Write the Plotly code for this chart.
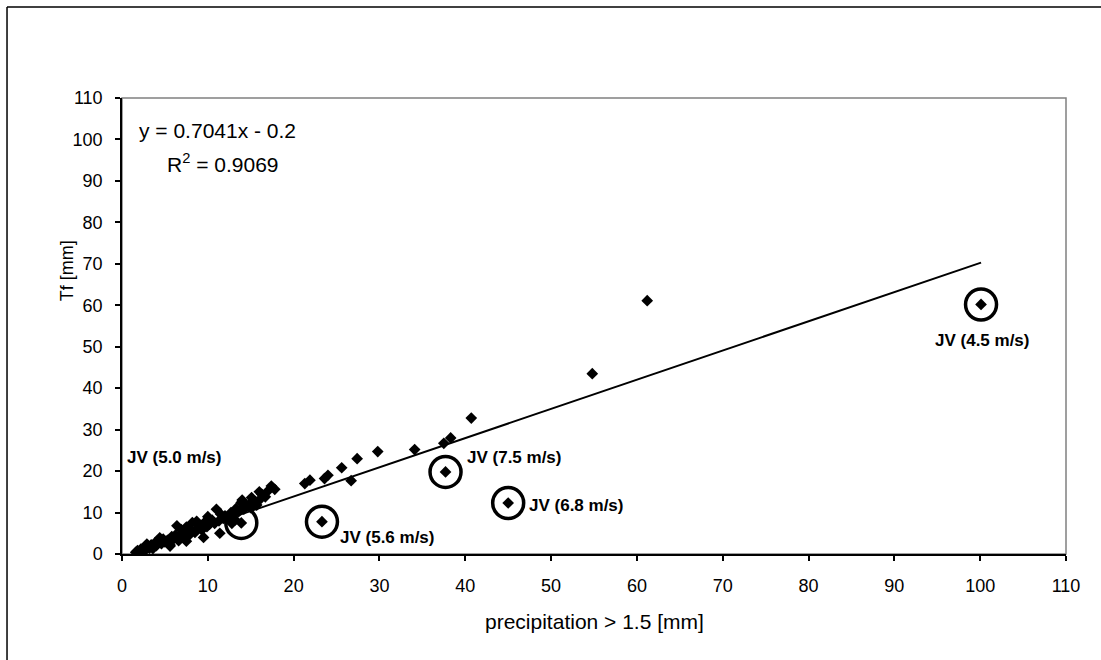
import plotly.graph_objects as go

# Regular observations: precipitation > 1.5 [mm] vs Tf [mm]
precip = [1.6, 1.8, 2.0, 2.2, 2.4, 2.6, 2.8, 3.0, 3.2, 3.4, 3.6, 3.8, 4.0, 4.3, 4.6, 4.8,
          5.0, 5.3, 5.6, 5.8, 6.0, 6.2, 6.4, 6.6, 6.8, 7.0, 7.3, 7.5, 7.8, 8.0, 8.2, 8.5,
          8.8, 9.0, 9.3, 9.6, 9.9, 10.2, 10.5, 10.8, 11.0, 11.3, 11.5, 11.8, 12.0, 12.4,
          12.7, 13.0, 13.3, 13.6, 13.9, 14.2, 14.5, 14.8, 15.1, 15.4, 15.7, 16.0, 16.3,
          16.7, 17.0, 17.4, 17.8,
          3.6, 5.6, 7.5, 9.5, 11.4, 12.8, 10.0, 8.7, 14.0, 16.0, 4.4, 6.9, 2.9, 13.2, 15.0,
          21.3, 21.9, 23.6, 24.0, 25.6, 26.7, 27.4, 29.8, 34.1, 37.5, 38.3, 40.7, 54.8, 61.2]
tf = [0.4, 0.8, 0.6, 1.2, 0.9, 1.5, 1.1, 1.8, 1.4, 2.2, 1.7, 2.6, 2.0, 3.0, 2.5, 3.6,
      2.9, 3.3, 2.2, 4.2, 3.6, 4.5, 6.8, 3.2, 4.8, 4.0, 5.2, 6.5, 4.5, 5.6, 7.6, 5.2,
      6.2, 7.0, 5.8, 7.6, 6.6, 7.2, 8.2, 7.4, 10.8, 8.0, 9.6, 8.6, 9.2, 8.8,
      10.0, 9.4, 11.0, 10.2, 12.4, 10.8, 11.6, 12.0, 13.6, 12.4, 11.8, 13.0, 14.4,
      13.8, 15.2, 16.4, 15.6,
      1.3, 1.9, 3.1, 4.0, 5.0, 7.4, 9.0, 7.9, 13.0, 15.0, 3.9, 5.9, 2.4, 8.2, 11.2,
      17.0, 17.8, 18.2, 19.0, 20.8, 17.7, 23.0, 24.7, 25.2, 26.7, 28.0, 32.8, 43.5, 61.1]

# Circled JV events
jv_precip = [13.9, 23.3, 37.7, 45.0, 100.1]
jv_tf = [7.5, 7.8, 19.8, 12.3, 60.2]
jv_labels = ["JV (5.0 m/s)", "JV (5.6 m/s)", "JV (7.5 m/s)", "JV (6.8 m/s)", "JV (4.5 m/s)"]
jv_label_x = [0.3, 25.2, 40.0, 47.2, 100.3]
jv_label_y = [23.2, 4.1, 23.2, 11.8, 51.4]
jv_label_anchor = ["left", "left", "left", "left", "center"]

# Linear trendline
slope = 0.7041
intercept = -0.2
r2 = 0.9069

tick_vals = list(range(0, 111, 10))

all_x = precip + jv_precip
all_y = tf + jv_tf
xmin, xmax = min(all_x), max(all_x)

FONT = "Arial, Liberation Sans, sans-serif"

fig = go.Figure()

fig.add_trace(go.Scatter(
    x=[xmin, xmax], y=[slope * xmin + intercept, slope * xmax + intercept],
    mode="lines", line=dict(color="black", width=2), showlegend=False, hoverinfo="skip"))

fig.add_trace(go.Scatter(
    x=all_x, y=all_y, mode="markers",
    marker=dict(symbol="diamond", size=9, color="black", line=dict(width=0)),
    showlegend=False))

fig.add_trace(go.Scatter(
    x=jv_precip, y=jv_tf, mode="markers",
    marker=dict(symbol="circle-open", size=31, color="black", line=dict(width=3.5, color="black")),
    showlegend=False))

for lx, ly, lt, la in zip(jv_label_x, jv_label_y, jv_labels, jv_label_anchor):
    fig.add_annotation(x=lx, y=ly, text="<b>" + lt + "</b>", showarrow=False,
                       xanchor=la, yanchor="middle",
                       font=dict(family=FONT, size=17, color="black"))

fig.add_annotation(x=1.7, y=102.2, xref="x", yref="y",
                   text=f"y = {slope}x - {abs(intercept)}", showarrow=False,
                   xanchor="left", yanchor="middle",
                   font=dict(family=FONT, size=21, color="black"))
fig.add_annotation(x=5.0, y=94.4, xref="x", yref="y",
                   text=f"R<sup>2</sup> = {r2}", showarrow=False,
                   xanchor="left", yanchor="middle",
                   font=dict(family=FONT, size=21, color="black"))

# axis titles
fig.add_annotation(x=-0.0583, y=0.622, xref="paper", yref="paper",
                   text="Tf [mm]", textangle=-90, showarrow=False,
                   xanchor="center", yanchor="middle",
                   font=dict(family=FONT, size=18, color="black"))
fig.add_annotation(x=0.5, y=-0.149, xref="paper", yref="paper",
                   text="precipitation > 1.5 [mm]", showarrow=False,
                   xanchor="center", yanchor="middle",
                   font=dict(family=FONT, size=21, color="black"))

# plot area frame (gray, top and right) and outer chart border (left and top visible)
fig.add_shape(type="rect", xref="paper", yref="paper", x0=0, y0=0, x1=1, y1=1,
              line=dict(color="#808080", width=1.5), layer="below")
fig.add_shape(type="line", xref="paper", yref="paper", x0=-0.1218, y0=-0.3, x1=-0.1218, y1=1.1996,
              line=dict(color="black", width=1.5))
fig.add_shape(type="line", xref="paper", yref="paper", x0=-0.1218, y0=1.1996, x1=1.2, y1=1.1996,
              line=dict(color="black", width=1.5))

axis_common = dict(
    range=[0, 110], tickvals=tick_vals, ticks="outside", ticklen=5, tickwidth=1.5,
    tickcolor="black", showline=True, linecolor="black", linewidth=1.5,
    showgrid=False, zeroline=False,
    tickfont=dict(family=FONT, size=18, color="black"),
)

fig.update_xaxes(**axis_common, ticklabelstandoff=10)
fig.update_yaxes(**axis_common, ticklabelstandoff=9)

fig.update_layout(
    width=1101, height=660,
    margin=dict(l=122, r=35, t=98, b=106, autoexpand=False),
    paper_bgcolor="white", plot_bgcolor="white",
    font=dict(family=FONT, color="black"),
)

fig.write_html("out.html", config={"displayModeBar": False},
               post_script="document.body.style.margin='0px';"
                           "document.documentElement.style.overflow='hidden';")
